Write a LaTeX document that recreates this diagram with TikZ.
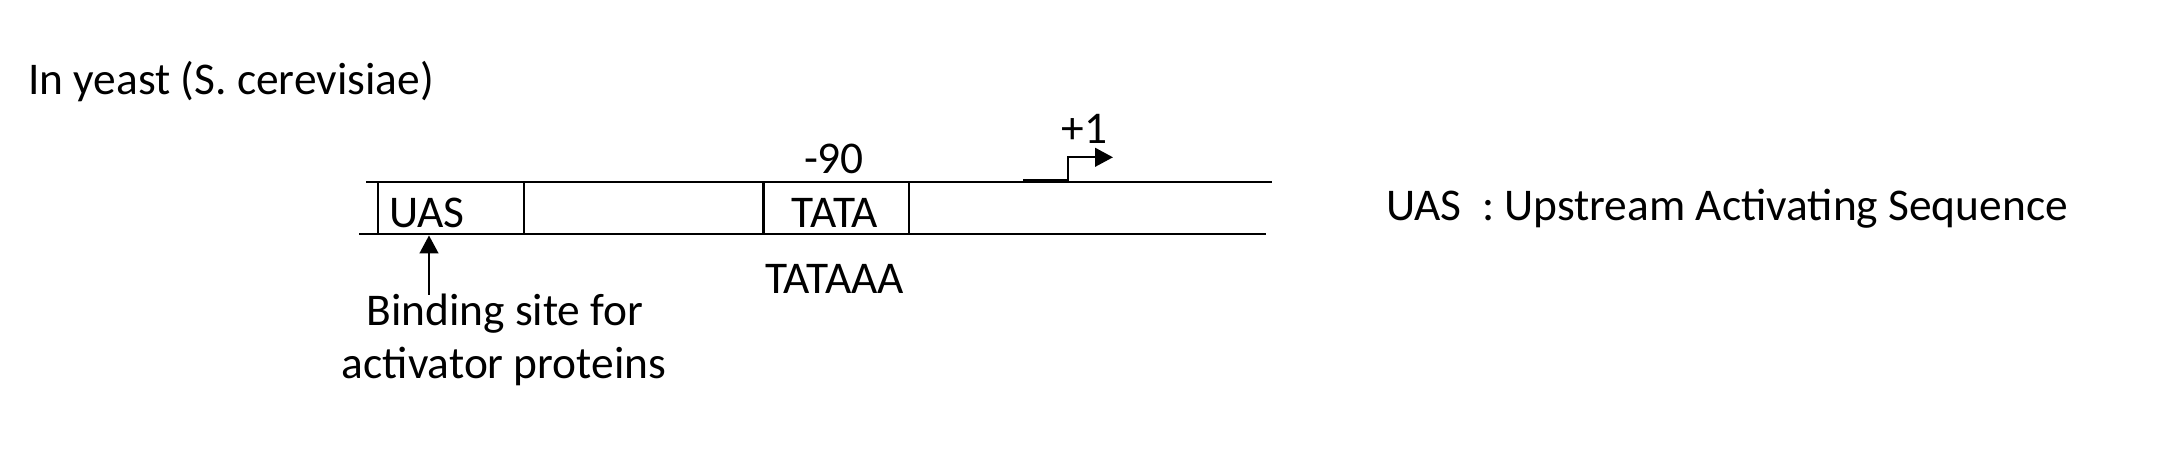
\documentclass[tikz,border=0pt]{standalone}
\usepackage{fontspec}
\setmainfont{Carlito}
\usetikzlibrary{arrows.meta}
\begin{document}
\begin{tikzpicture}[x=1pt,y=-1pt,
  txt/.style={inner sep=0pt,font=\fontsize{45.4}{52}\selectfont},
  dna/.style={line width=2.3pt,black},
  seg/.style={draw,line width=2.3pt,inner sep=0pt,minimum height=52.3pt},
  tip/.style={-{Triangle[width=18.7pt,length=18pt]}}]
\useasboundingbox (0,0) rectangle (2172,470);
\fill[white] (0,0) rectangle (2172,470);
% DNA lines
\coordinate (tl) at (366,182);
\coordinate (tr) at (1272,182);
\coordinate (bl) at (359,234.3);
\coordinate (br) at (1265.6,234.3);
\draw[dna] (tl) -- (tr);
\draw[dna] (bl) -- (br);
% boxes
\node[seg,minimum width=146pt] (uasbox) at (451,208.15) {};
\node[seg,minimum width=145.4pt] (tatabox) at (836.3,208.15) {};
% texts
\node[txt,anchor=base west] (title) at (28,95) {In yeast (S. cerevisiae)};
\node[txt,anchor=base west] (uas) at (389,228) {UAS};
\node[txt,anchor=base] (tata) at (835,228) {TATA};
\node[txt,anchor=base] (m90) at (834,174) {-90};
\node[txt,anchor=base] (tataaa) at (834.6,294) {TATAAA};
\node[txt,anchor=base] (p1) at (1084.6,143.5) {+1};
\node[txt,anchor=base] (bind1) at (505,326) {Binding site for};
\node[txt,anchor=base] (bind2) at (504,378.3) {activator proteins};
\node[txt,anchor=base west] (legend) at (1386,220.6) {UAS\ \ : Upstream Activating Sequence};
% binding arrow
\coordinate (btail) at (429,295);
\draw[dna,tip] (btail) -- (btail |- uasbox.south);
% promoter arrow
\coordinate (ps) at (1023,180.5);
\coordinate (pk) at (1068,180.5);
\coordinate (pu) at (1068,157.3);
\coordinate (pe) at (1113,157.3);
\draw[line width=2.3pt,tip] (ps) -- (pk) -- (pu) -- (pe);
\end{tikzpicture}
\end{document}
